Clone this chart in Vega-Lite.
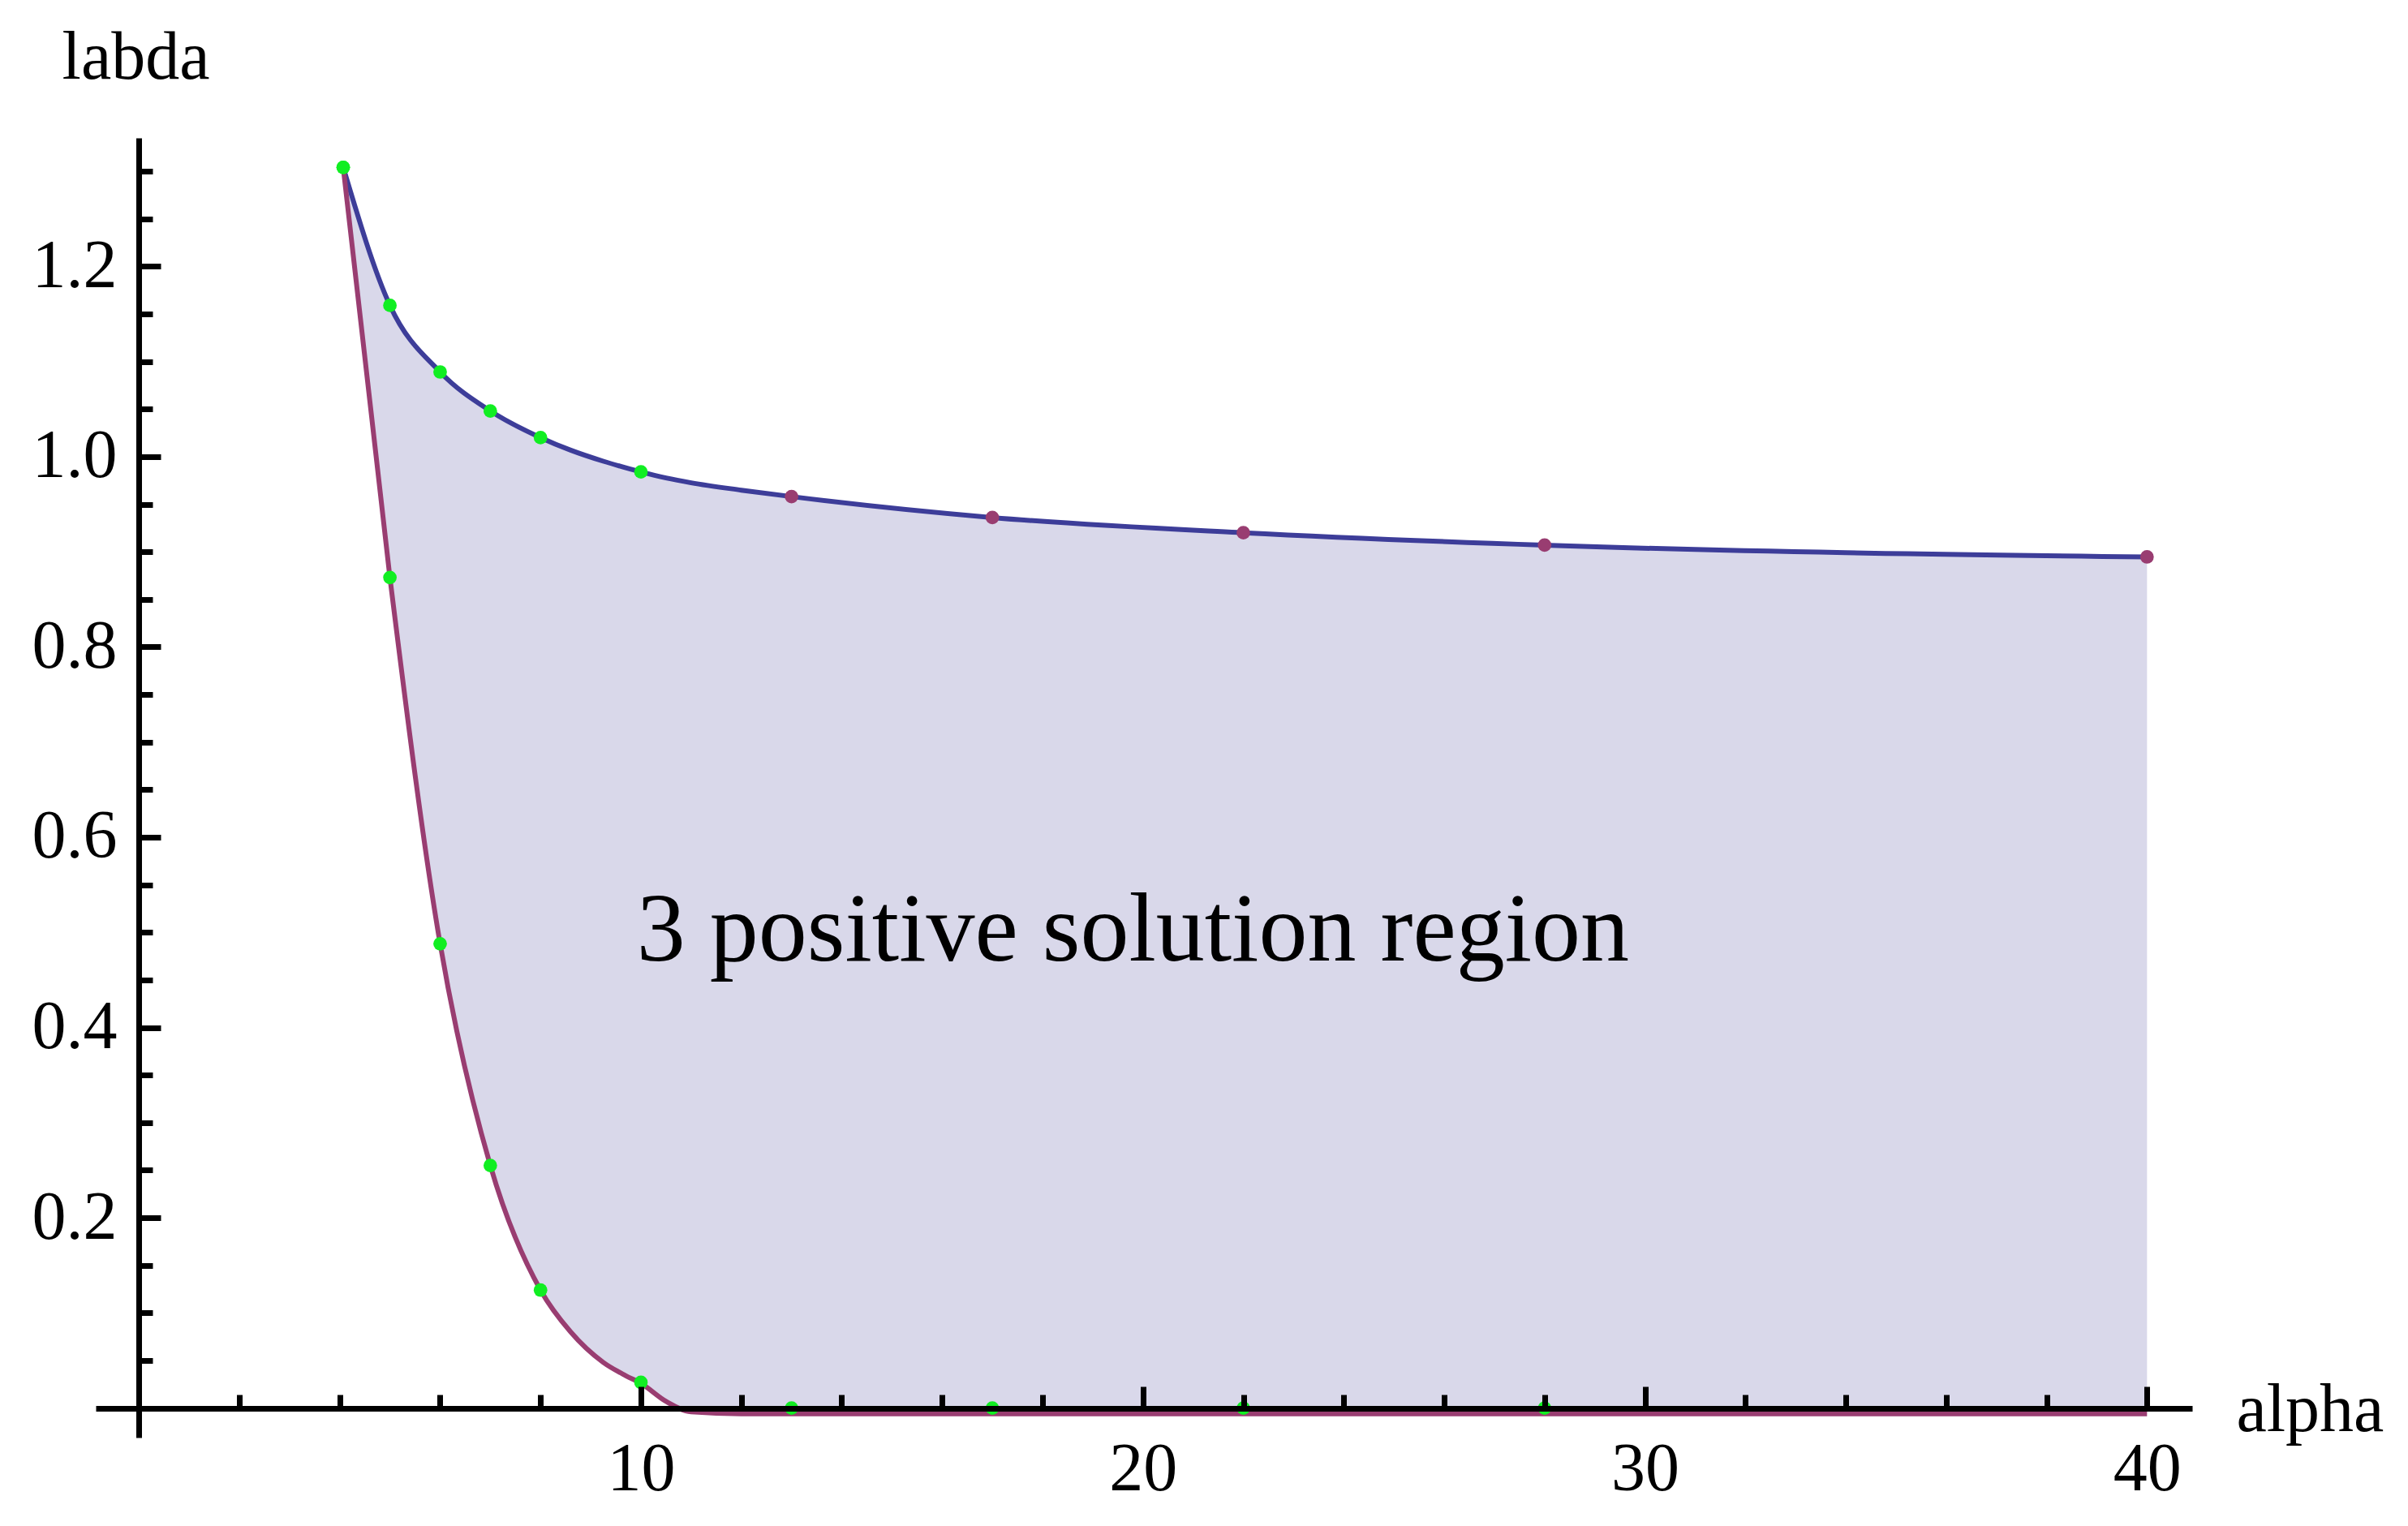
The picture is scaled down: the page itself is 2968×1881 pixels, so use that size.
{
  "$schema": "https://vega.github.io/schema/vega-lite/v6.json",
  "width": 2584,
  "height": 1602,
  "autosize": {"type": "none"},
  "padding": {"left": 118, "top": 170, "right": 266, "bottom": 109},
  "background": "white",
  "config": {"view": {"stroke": null}},
  "datasets": {
    "curve": [
      {"alpha": 4.07, "upper": 1.304, "lower": 1.304},
      {"alpha": 5, "upper": 1.159, "lower": 0.873},
      {"alpha": 6, "upper": 1.089, "lower": 0.488},
      {"alpha": 7, "upper": 1.048, "lower": 0.255},
      {"alpha": 8, "upper": 1.02, "lower": 0.124},
      {"alpha": 8.6, "upper": 1.0068, "lower": 0.08},
      {"alpha": 9.25, "upper": 0.9952, "lower": 0.048},
      {"alpha": 9.7, "upper": 0.9883, "lower": 0.034},
      {"alpha": 10, "upper": 0.984, "lower": 0.026},
      {"alpha": 10.5, "upper": 0.9776, "lower": 0.007},
      {"alpha": 11, "upper": 0.9725, "lower": -0.004},
      {"alpha": 12, "upper": 0.9648, "lower": -0.006},
      {"alpha": 13, "upper": 0.958, "lower": -0.006},
      {"alpha": 17, "upper": 0.936, "lower": -0.006},
      {"alpha": 22, "upper": 0.92, "lower": -0.006},
      {"alpha": 28, "upper": 0.907, "lower": -0.006},
      {"alpha": 40, "upper": 0.8946, "lower": -0.006}
    ],
    "pts": [
      {"alpha": 4.07, "lambda": 1.304, "set": "A"},
      {"alpha": 5, "lambda": 1.159, "set": "A"},
      {"alpha": 6, "lambda": 1.089, "set": "A"},
      {"alpha": 7, "lambda": 1.048, "set": "A"},
      {"alpha": 8, "lambda": 1.02, "set": "A"},
      {"alpha": 10, "lambda": 0.984, "set": "A"},
      {"alpha": 4.07, "lambda": 1.304, "set": "A"},
      {"alpha": 5, "lambda": 0.873, "set": "A"},
      {"alpha": 6, "lambda": 0.488, "set": "A"},
      {"alpha": 7, "lambda": 0.255, "set": "A"},
      {"alpha": 8, "lambda": 0.124, "set": "A"},
      {"alpha": 10, "lambda": 0.027, "set": "A"},
      {"alpha": 13, "lambda": 0, "set": "A"},
      {"alpha": 17, "lambda": 0, "set": "A"},
      {"alpha": 22, "lambda": 0, "set": "A"},
      {"alpha": 28, "lambda": 0, "set": "A"},
      {"alpha": 13, "lambda": 0.958, "set": "B"},
      {"alpha": 17, "lambda": 0.936, "set": "B"},
      {"alpha": 22, "lambda": 0.92, "set": "B"},
      {"alpha": 28, "lambda": 0.907, "set": "B"},
      {"alpha": 40, "lambda": 0.8946, "set": "B"}
    ]
  },
  "layer": [
    {
      "data": {"name": "curve"},
      "mark": {"type": "area", "interpolate": "monotone", "color": "#D9D8EA", "opacity": 1},
      "encoding": {
        "x": {
          "field": "alpha", "type": "quantitative",
          "scale": {"domain": [-0.86, 40.9], "nice": false, "zero": false},
          "axis": {
            "orient": "bottom", "offset": -36, "values": [10, 20, 30, 40], "format": "d",
            "tickSize": -27, "tickWidth": 7, "tickColor": "black",
            "domain": true, "domainWidth": 7, "domainColor": "black",
            "labelFont": "Liberation Serif", "labelFontSize": 84, "labelColor": "black",
            "labelPadding": 61, "labelDx": -8, "labelFlush": false, "labelOverlap": false,
            "grid": false,
            "title": "alpha", "titleFont": "Liberation Serif", "titleFontSize": 84,
            "titleFontWeight": "normal", "titleColor": "black",
            "titleX": 2638, "titleY": 27, "titleAlign": "left", "titleBaseline": "alphabetic",
            "titleAngle": 0, "zindex": 1
          }
        },
        "y": {
          "field": "upper", "type": "quantitative",
          "scale": {"domain": [-0.031, 1.335], "nice": false, "zero": false},
          "axis": {
            "orient": "left", "offset": -53, "values": [0.2, 0.4, 0.6, 0.8, 1.0, 1.2], "format": ".1f",
            "tickSize": -27, "tickWidth": 7, "tickColor": "black",
            "domain": true, "domainWidth": 7, "domainColor": "black",
            "labelFont": "Liberation Serif", "labelFontSize": 84, "labelColor": "black",
            "labelPadding": 54, "labelAlign": "right", "labelBaseline": "middle",
            "labelFlush": false, "labelOverlap": false,
            "grid": false,
            "title": "labda", "titleFont": "Liberation Serif", "titleFontSize": 84,
            "titleFontWeight": "normal", "titleColor": "black",
            "titleX": -4, "titleY": -74, "titleAlign": "center", "titleBaseline": "alphabetic",
            "titleAngle": 0, "zindex": 1
          }
        },
        "y2": {"field": "lower"}
      }
    },
    {
      "data": {"name": "curve"},
      "mark": {"type": "line", "interpolate": "monotone", "color": "#3D3D99", "strokeWidth": 6},
      "encoding": {
        "x": {
          "field": "alpha", "type": "quantitative",
          "axis": {
            "orient": "bottom", "offset": -36,
            "values": [2, 4, 6, 8, 12, 14, 16, 18, 22, 24, 26, 28, 32, 34, 36, 38],
            "tickSize": -17, "tickWidth": 7, "tickColor": "black",
            "domain": false, "labels": false, "grid": false, "title": null, "zindex": 1
          }
        },
        "y": {
          "field": "upper", "type": "quantitative",
          "axis": {
            "orient": "left", "offset": -53,
            "values": [0.05, 0.1, 0.15, 0.25, 0.3, 0.35, 0.45, 0.5, 0.55, 0.65, 0.7, 0.75, 0.85, 0.9, 0.95, 1.05, 1.1, 1.15, 1.25, 1.3],
            "tickSize": -17, "tickWidth": 7, "tickColor": "black",
            "domain": false, "labels": false, "grid": false, "title": null, "zindex": 1
          }
        }
      }
    },
    {
      "data": {"name": "curve"},
      "mark": {"type": "line", "interpolate": "monotone", "color": "#993D71", "strokeWidth": 6},
      "encoding": {
        "x": {"field": "alpha", "type": "quantitative", "axis": null},
        "y": {"field": "lower", "type": "quantitative", "axis": null}
      }
    },
    {
      "data": {"name": "pts"},
      "mark": {"type": "circle", "size": 280, "opacity": 1},
      "encoding": {
        "x": {"field": "alpha", "type": "quantitative", "axis": null},
        "y": {"field": "lambda", "type": "quantitative", "axis": null},
        "color": {
          "field": "set", "type": "nominal",
          "scale": {"domain": ["A", "B"], "range": ["#11EE22", "#993D71"]},
          "legend": null
        }
      }
    },
    {
      "data": {"values": [{}]},
      "mark": {"type": "text", "font": "Liberation Serif", "fontSize": 120, "color": "black", "align": "center", "baseline": "alphabetic"},
      "encoding": {
        "x": {"datum": 19.8, "type": "quantitative", "axis": null},
        "y": {"datum": 0.47, "type": "quantitative", "axis": null},
        "text": {"value": "3 positive solution region"}
      }
    }
  ],
  "resolve": {"axis": {"x": "independent", "y": "independent"}}
}
